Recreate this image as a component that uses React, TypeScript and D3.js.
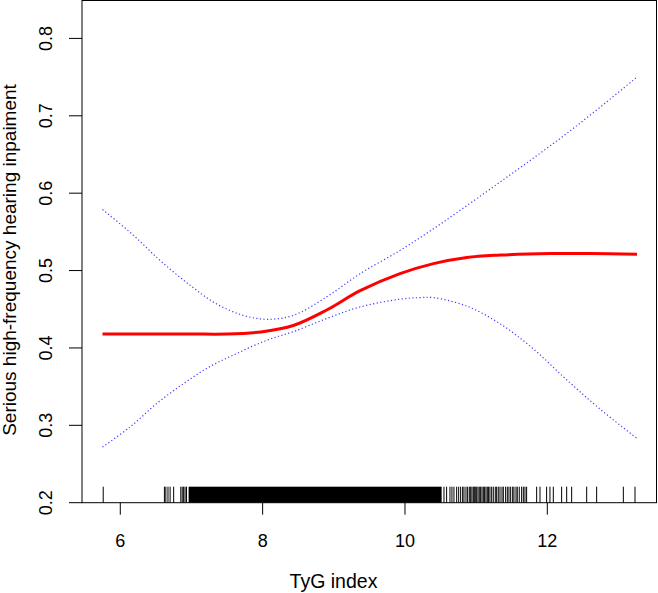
import { useRef, useEffect } from 'react';
import * as d3 from 'd3';

// fitted curve (TyG index, probability)
const fitX = [5.75, 6.5, 7.0, 7.5, 8.0, 8.43, 8.9, 9.37, 9.93, 10.4, 10.87, 11.34, 12.04, 12.6, 13.26];
const fitY = [0.418, 0.418, 0.418, 0.418, 0.421, 0.429, 0.449, 0.474, 0.496, 0.509, 0.517, 0.52, 0.522, 0.522, 0.521];

// upper 95% band
const upX = [5.75, 6.18, 6.56, 6.98, 7.35, 7.73, 8.06, 8.43, 8.9, 9.37, 9.93, 10.4, 10.87, 11.33, 11.8, 12.27, 12.74, 13.26];
const upY = [0.579, 0.546, 0.513, 0.481, 0.457, 0.442, 0.437, 0.442, 0.466, 0.496, 0.526, 0.554, 0.584, 0.614, 0.645, 0.677, 0.711, 0.75];

// lower 95% band
const loX = [5.75, 6.14, 6.51, 6.89, 7.26, 7.64, 8.06, 8.43, 8.9, 9.37, 9.93, 10.2, 10.4, 10.87, 11.34, 11.8, 12.27, 12.74, 13.26];
const loY = [0.272, 0.298, 0.328, 0.354, 0.376, 0.393, 0.41, 0.421, 0.438, 0.453, 0.463, 0.465, 0.465, 0.454, 0.431, 0.399, 0.359, 0.321, 0.283];

// rug: solid stretch of observations, plus the sparse ones
const rugDense = [6.96, 10.515];
const rugSparse = [
  5.76, 6.62, 6.64, 6.67, 6.7, 6.75, 6.85, 6.87, 6.89, 6.91, 6.93,
  10.548, 10.585, 10.632, 10.66, 10.688, 10.726, 10.754, 10.782, 10.81, 10.829, 10.857, 10.88,
  10.904, 10.923, 10.941, 10.96, 10.974, 10.988, 11.007, 11.026, 11.044, 11.063, 11.082, 11.101,
  11.119, 11.138, 11.157, 11.175, 11.194, 11.218, 11.241, 11.269, 11.288, 11.311, 11.335, 11.363,
  11.382, 11.414, 11.438, 11.461, 11.485, 11.513, 11.531, 11.56, 11.578, 11.606, 11.639, 11.663,
  11.686, 11.709, 11.85, 11.897, 11.99, 12.037, 12.084, 12.201, 12.272, 12.342, 12.553, 12.693,
  13.068, 13.232,
];

const xTicks = [6, 8, 10, 12];
const yTicks = [0.2, 0.3, 0.4, 0.5, 0.6, 0.7, 0.8];

function Chart() {
  const ref = useRef<SVGSVGElement>(null);

  useEffect(() => {
    d3.select(ref.current).selectAll('*').remove();

    const W = 658, H = 593;
    const L = 82, R = 656.5, T = 0.5, B = 502.7;
    const font = 'Liberation Sans, Arial, sans-serif';

    const svg = d3.select(ref.current).attr('width', W).attr('height', H);

    const x = d3.scaleLinear().domain([5.462, 13.534]).range([L, R]);
    const y = d3.scaleLinear().domain([0.2, 0.849]).range([B, T]);

    // box
    svg.append('rect')
      .attr('x', L).attr('y', T)
      .attr('width', R - L).attr('height', B - T)
      .attr('fill', 'none').attr('stroke', '#000').attr('stroke-width', 1);

    // rug
    const rugTop = B - 16;
    svg.append('rect')
      .attr('x', x(rugDense[0]))
      .attr('y', rugTop)
      .attr('width', x(rugDense[1]) - x(rugDense[0]))
      .attr('height', B - rugTop)
      .attr('fill', '#000');
    svg.append('g').selectAll('line')
      .data(rugSparse)
      .enter()
      .append('line')
      .attr('x1', d => x(d)).attr('x2', d => x(d))
      .attr('y1', rugTop).attr('y2', B)
      .attr('stroke', '#000').attr('stroke-width', 1);

    // axes
    const xa = svg.append('g');
    xa.selectAll('line')
      .data(xTicks)
      .enter()
      .append('line')
      .attr('x1', d => x(d)).attr('x2', d => x(d))
      .attr('y1', B).attr('y2', B + 12)
      .attr('stroke', '#000');
    xa.selectAll('text')
      .data(xTicks)
      .enter()
      .append('text')
      .attr('x', d => x(d)).attr('y', 547)
      .attr('text-anchor', 'middle')
      .style('font-family', font).style('font-size', '18px')
      .text(d => String(d));

    const ya = svg.append('g');
    ya.selectAll('line')
      .data(yTicks)
      .enter()
      .append('line')
      .attr('x1', L - 13).attr('x2', L)
      .attr('y1', d => y(d)).attr('y2', d => y(d))
      .attr('stroke', '#000');
    ya.selectAll('text')
      .data(yTicks)
      .enter()
      .append('text')
      .attr('transform', d => `translate(52, ${y(d)}) rotate(-90)`)
      .attr('text-anchor', 'middle')
      .style('font-family', font).style('font-size', '18px')
      .text(d => d.toFixed(1));

    svg.append('text')
      .attr('x', 333.5).attr('y', 588)
      .attr('text-anchor', 'middle')
      .style('font-family', font).style('font-size', '19.5px')
      .text('TyG index');

    svg.append('text')
      .attr('transform', 'translate(16, 260) rotate(-90)')
      .attr('text-anchor', 'middle')
      .style('font-family', font).style('font-size', '19px')
      .text('Serious high-frequency hearing inpaiment');

    // curves
    const line = d3.line<[number, number]>()
      .x(d => x(d[0]))
      .y(d => y(d[1]))
      .curve(d3.curveCatmullRom.alpha(0.5));

    const bands: [number[], number[]][] = [[upX, upY], [loX, loY]];
    bands.forEach(([bx, by]) => {
      svg.append('path')
        .datum(bx.map((v, i) => [v, by[i]] as [number, number]))
        .attr('d', line)
        .attr('fill', 'none')
        .attr('stroke', '#3c3cff')
        .attr('stroke-width', 1.2)
        .attr('stroke-dasharray', '1.2 2.4');
    });

    svg.append('path')
      .datum(fitX.map((v, i) => [v, fitY[i]] as [number, number]))
      .attr('d', line)
      .attr('fill', 'none')
      .attr('stroke', '#ff0000')
      .attr('stroke-width', 3);
  }, []);

  return <svg ref={ref} style={{ display: 'block', position: 'absolute', left: 0, top: 0 }} />;
}

export default function App() {
  return <Chart />;
}
